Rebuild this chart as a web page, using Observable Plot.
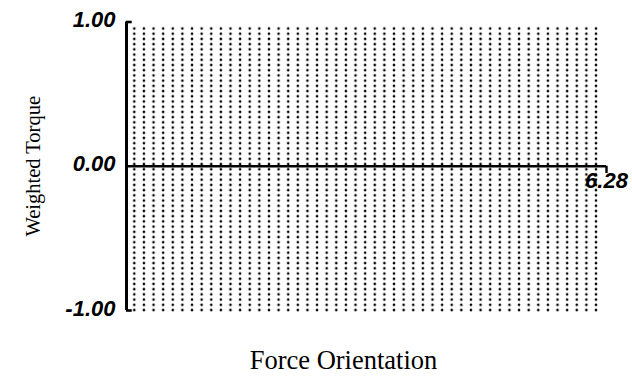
<!DOCTYPE html>
<html>
<head>
<meta charset="utf-8">
<script src="https://cdn.jsdelivr.net/npm/d3@7"></script>
<script src="https://cdn.jsdelivr.net/npm/@observablehq/plot@0.6"></script>
<style>
  html, body { margin: 0; padding: 0; background: #fff; }
</style>
</head>
<body>
<div id="chart"></div>
<script>
// Axis ticks and labels
const yTicks = [-1, 0, 1];
const yTickLabels = ["-1.00", "0.00", "1.00"];
const xTicks = [6.28];
const xTickLabels = ["6.28"];
const xTitle = "Force Orientation";
const yTitle = "Weighted Torque";
// Extent of the dotted field (data units)
const fieldX = [0.04, 6.21];
const fieldY = [-1.02, 0.975];

const plot = Plot.plot({
  width: 632,
  height: 377,
  marginLeft: 126,
  marginRight: 26,
  marginTop: 21.5,
  marginBottom: 67,
  x: {domain: [0, 6.28], axis: null},
  y: {domain: [-1, 1], axis: null},
  style: {background: "#fff", overflow: "visible"},
  marks: [
    // dotted field
    Plot.rect([{x1: fieldX[0], x2: fieldX[1], y1: fieldY[0], y2: fieldY[1]}], {
      x1: "x1", x2: "x2", y1: "y1", y2: "y2", fill: "url(#dotgrid)"
    }),
    // y axis line
    Plot.ruleX([0], {y1: -1, y2: 1, stroke: "#000", strokeWidth: 3}),
    // y ticks at ends
    Plot.ruleY([yTicks[0], yTicks[2]], {x1: 0, x2: 0.075, stroke: "#000", strokeWidth: 2.6}),
    // zero line
    Plot.ruleY([0], {x1: 0, x2: 6.28, stroke: "#000", strokeWidth: 2.4}),
    // x tick
    Plot.ruleX(xTicks, {y1: 0, y2: -0.05, stroke: "#000", strokeWidth: 2.4}),
    // y tick labels
    Plot.text(yTicks, {
      x: 0, y: d => d, text: (d, i) => yTickLabels[i], dx: -11, dy: -2,
      textAnchor: "end", fontSize: 22, fontWeight: "bold", fontStyle: "italic",
      fontFamily: "Liberation Sans, Arial, sans-serif", fill: "#000"
    }),
    // x tick label
    Plot.text(xTicks, {
      x: d => d, y: 0, text: (d, i) => xTickLabels[i], dy: 15,
      textAnchor: "middle", fontSize: 22, fontWeight: "bold", fontStyle: "italic",
      fontFamily: "Liberation Sans, Arial, sans-serif", fill: "#000"
    }),
    // axis titles
    Plot.text([xTitle], {
      frameAnchor: "bottom", textAnchor: "middle", lineAnchor: "middle",
      dx: -23, dy: 50, fontSize: 26.5,
      fontFamily: "Liberation Serif, Times New Roman, serif", fill: "#000"
    }),
    Plot.text([yTitle], {
      frameAnchor: "left", textAnchor: "middle", lineAnchor: "middle",
      dx: -93, rotate: -90, fontSize: 20.5,
      fontFamily: "Liberation Serif, Times New Roman, serif", fill: "#000"
    })
  ]
});

// Dot texture used as fill for the field
const dx = (596 - 134.3) / 48, dy = (310 - 28.5) / 54;
const defs = d3.select(plot).insert("defs", ":first-child");
const pat = defs.append("pattern")
  .attr("id", "dotgrid")
  .attr("patternUnits", "userSpaceOnUse")
  .attr("x", 134.3 - dx / 2)
  .attr("y", 28.5 - dy / 2)
  .attr("width", dx)
  .attr("height", dy);
pat.append("circle")
  .attr("cx", dx / 2).attr("cy", dy / 2).attr("r", 1.3).attr("fill", "#000");

document.getElementById("chart").appendChild(plot);
</script>
</body>
</html>
